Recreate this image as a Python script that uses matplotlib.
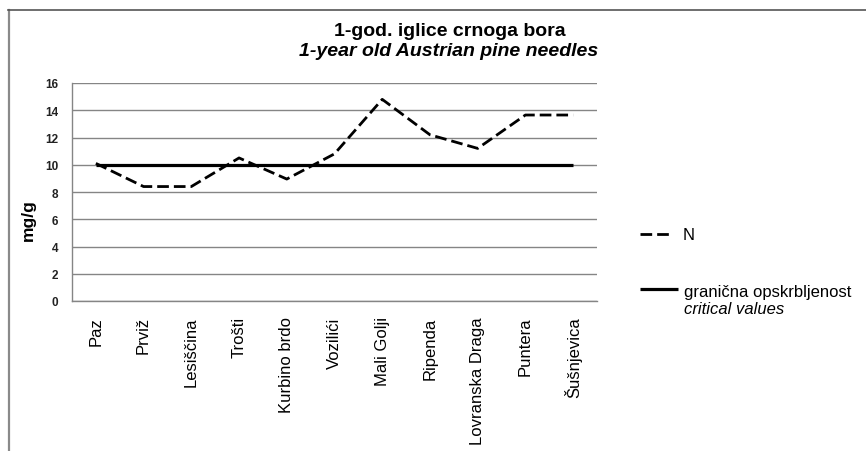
import matplotlib
matplotlib.use("Agg")
import matplotlib.pyplot as plt
from matplotlib.lines import Line2D

# Sampling sites and measured nitrogen in 1-year old needles
sites = ["Paz", "Prviž", "Lesiščina", "Trošti", "Kurbino brdo", "Vozilići",
         "Mali Golji", "Ripenda", "Lovranska Draga", "Puntera", "Šušnjevica"]
nitrogen = [10.1, 8.4, 8.4, 10.5, 8.95, 10.8, 14.8, 12.2, 11.2, 13.65, 13.65]
critical = [10, 10, 10, 10, 10, 10, 10, 10, 10, 10, 10]
y_ticks = [0, 2, 4, 6, 8, 10, 12, 14, 16]

W, H = 866, 452
DPI = 100
plt.rcParams["font.family"] = ["Liberation Sans", "DejaVu Sans"]

fig = plt.figure(figsize=(W / DPI, H / DPI), dpi=DPI)
fig.patch.set_facecolor("white")


def fx(px):
    return px / W


def fy(py):
    return 1 - py / H


ax = fig.add_axes([fx(72), fy(302), fx(597) - fx(72), fy(84) - fy(302)])

x = list(range(len(sites)))
n_line, = ax.plot(x, nitrogen, color="black", lw=2.0, solid_capstyle="butt",
                  dash_capstyle="butt", zorder=3)
n_line.set_dashes([4.2, 1.8])
ax.plot(x, critical, color="black", lw=2.3, solid_capstyle="butt", zorder=4)

ax.set_xlim(-0.5, len(sites) - 0.5)
ax.set_ylim(0, 16)
ax.set_yticks(y_ticks)
ax.set_yticklabels([str(v) for v in y_ticks], fontsize=8.5, fontweight="bold",
                   color="#222222")
ax.set_xticks(x)
ax.set_xticklabels(sites, rotation=90, fontsize=12, va="top", ha="center")
ax.tick_params(axis="y", length=0, pad=10)
ax.tick_params(axis="x", length=0, pad=11)
ax.yaxis.grid(True, color="#858585", lw=1.0)
ax.set_axisbelow(True)
for side in ("top", "right"):
    ax.spines[side].set_visible(False)
for side in ("left", "bottom"):
    ax.spines[side].set_color("#858585")
    ax.spines[side].set_linewidth(1.0)

# Axis title
fig.text(fx(28), fy(220), "mg/g", rotation=90, fontsize=12.5, fontweight="bold",
         ha="center", va="center")

# Chart title
fig.text(fx(450), fy(32), "1-god. iglice crnoga bora", fontsize=14,
         fontweight="bold", ha="center", va="center")
fig.text(fx(449), fy(52), "1-year old Austrian pine needles", fontsize=14,
         fontweight="bold", style="italic", ha="center", va="center")

# Legend
leg_dash = Line2D([fx(640), fx(673)], [fy(235), fy(235)], transform=fig.transFigure,
                  color="black", lw=2.0, dash_capstyle="butt")
leg_dash.set_dashes([4.2, 1.8])
fig.add_artist(leg_dash)
fig.text(fx(683), fy(236), "N", fontsize=12, ha="left", va="center")
fig.add_artist(Line2D([fx(640), fx(678)], [fy(290), fy(290)],
                      transform=fig.transFigure, color="black", lw=2.3,
                      solid_capstyle="butt"))
fig.text(fx(684), fy(292), "granična opskrbljenost", fontsize=12,
         ha="left", va="center")
fig.text(fx(684), fy(309), "critical values", fontsize=12, style="italic",
         ha="left", va="center")

# Outer chart frame (left and top edges)
fig.add_artist(Line2D([fx(9), fx(9)], [fy(11), fy(H + 2)], transform=fig.transFigure,
                      color="#8a8a8a", lw=1.6))
fig.add_artist(Line2D([fx(8), fx(W + 2)], [fy(11), fy(11)], transform=fig.transFigure,
                      color="#555555", lw=1.2))

fig.savefig("out.png", dpi=DPI, facecolor="white")
